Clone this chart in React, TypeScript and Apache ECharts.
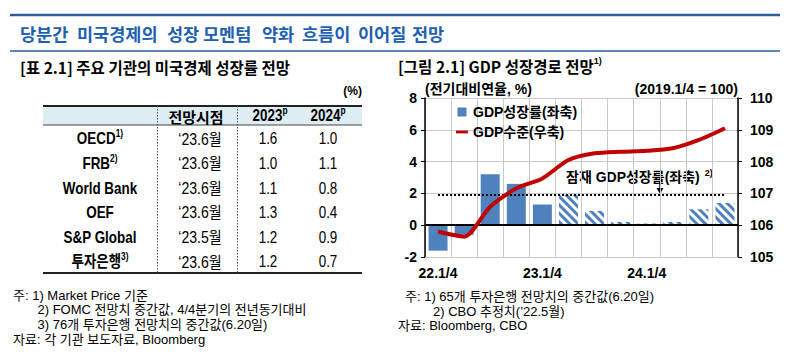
import React, { useEffect, useRef } from 'react';
import * as echarts from 'echarts';

// ---------- data ----------
const quarters = ['22.1/4', '22.2/4', '22.3/4', '22.4/4', '23.1/4', '23.2/4', '23.3/4', '23.4/4', '24.1/4', '24.2/4', '24.3/4', '24.4/4'];
const growthActual = [-1.6, -0.6, 3.2, 2.6, 1.3, null, null, null, null, null, null, null];
const growthForecast = [null, null, null, null, null, 1.9, 0.9, 0.2, 0.1, 0.2, 1.0, 1.4];
const gdpLevel = [105.8, 105.64, 106.58, 107.16, 107.47, 108.05, 108.26, 108.31, 108.34, 108.42, 108.68, 109.05];
const potentialGrowth = [1.9, 1.9, 1.9, 1.9, 1.9, 1.9, 1.9, 1.9, 1.9, 1.9, 1.9, 1.9];
const leftTicks = { min: -2, max: 8, interval: 2 };
const rightTicks = { min: 105, max: 110, interval: 1 };

const institutions = ['OECD', 'FRB', 'World Bank', 'OEF', 'S&P Global', '투자은행'];
const institutionNotes = ['1)', '2)', '', '', '', '3)'];
const forecastDates = ['‘23.6월', '‘23.6월', '‘23.6월', '‘23.6월', '‘23.5월', '‘23.6월'];
const growth2023 = ['1.6', '1.0', '1.1', '1.3', '1.2', '1.2'];
const growth2024 = ['1.0', '1.1', '0.8', '0.4', '0.9', '0.7'];
const tableHeaders = ['전망시점', '2023', '2024'];

const pageTitleWords = ['당분간', '미국경제의', '성장', '모멘텀', '약화', '흐름이', '이어질', '전망'];
const tableTitle = '[표 2.1] 주요 기관의 미국경제 성장률 전망';
const chartTitle = '[그림 2.1] GDP 성장경로 전망';
const leftNotes = ['주: 1) Market Price 기준', '2) FOMC 전망치 중간값, 4/4분기의 전년동기대비', '3) 76개 투자은행 전망치의 중간값(6.20일)', '자료: 각 기관 보도자료, Bloomberg'];
const rightNotes = ['주: 1) 65개 투자은행 전망치의 중간값(6.20일)', '2) CBO 추정치(’22.5월)', '자료: Bloomberg, CBO'];

// ---------- styles ----------
const FONT_KR = "'Noto Sans CJK KR', sans-serif";
const FONT_MIX = "'Liberation Sans', Arial, 'Noto Sans CJK KR', sans-serif";
const BLUE_TITLE = '#2160B0';
const BLUE_LINE = '#2F5C9C';
const BAR_BLUE = '#4F81BD';
const RED = '#C00000';
const GRID_GRAY = '#C8C8C8';
const NARROW = 0.84;

function txt(x: number, y: number, text: string, o: any = {}) {
  return {
    type: 'text',
    x,
    y,
    scaleX: o.scaleX || 1,
    silent: true,
    style: {
      text,
      fill: o.fill || '#000',
      fontSize: o.size || 13,
      fontWeight: o.weight || 'normal',
      fontFamily: o.family || FONT_MIX,
      textAlign: o.align || 'left',
      textVerticalAlign: 'middle',
      rich: o.rich,
    },
  };
}

function hline(x1: number, x2: number, y: number, stroke: string, lineWidth: number, lineDash?: number[]) {
  return { type: 'line', silent: true, shape: { x1, y1: y, x2, y2: y }, style: { stroke, lineWidth, lineDash } };
}
function vline(x: number, y1: number, y2: number, stroke: string, lineWidth: number, lineDash?: number[]) {
  return { type: 'line', silent: true, shape: { x1: x, y1, x2: x, y2 }, style: { stroke, lineWidth, lineDash } };
}

function buildGraphics() {
  const g: any[] = [];
  // page header
  g.push(hline(10, 780, 15, BLUE_LINE, 2.5));
  const wordX = [20, 77, 167, 203, 262, 302, 358, 412];
  pageTitleWords.forEach((w, i) => g.push(txt(wordX[i], 33, w, { fill: BLUE_TITLE, size: 17.5, weight: 'bold', family: FONT_KR })));
  g.push(hline(10, 780, 51, BLUE_LINE, 1.5));

  // table title
  g.push(txt(20, 67, tableTitle, { size: 15.5, weight: 'bold', family: FONT_KR }));
  g.push(txt(362, 91, '(%)', { size: 12, weight: 'bold', align: 'right' }));

  // table
  const tL = 43, tR = 362, tTop = 106, hBot = 125, tBot = 273;
  g.push({ type: 'rect', silent: true, shape: { x: tL, y: tTop, width: tR - tL, height: hBot - tTop }, style: { fill: '#DDEDF2' } });
  g.push(hline(tL, tR, tTop, '#222', 2));
  g.push(hline(tL, tR, hBot, '#444', 1));
  g.push(hline(tL, tR, tBot, '#222', 2));
  g.push(vline(157.5, tTop, tBot, '#555', 1, [1.5, 1.5]));
  g.push(vline(237.5, tTop, tBot, '#555', 1, [1.5, 1.5]));

  const supRich = (size: number, weight: string, family: string) => ({
    a: { fontSize: size, fontWeight: weight, fontFamily: family, fill: '#000', lineHeight: size + 4 },
    s: { fontSize: 10, fontWeight: 'bold', fontFamily: FONT_MIX, fill: '#000', verticalAlign: 'top', lineHeight: 11 },
  });
  const hy = 116;
  g.push(txt(196, hy, tableHeaders[0], { size: 15, weight: 'bold', family: FONT_KR, align: 'center' }));
  g.push(txt(270, hy, '{a|' + tableHeaders[1] + '}{s|p}', { align: 'center', scaleX: NARROW, rich: supRich(16, 'bold', FONT_MIX) }));
  g.push(txt(328, hy, '{a|' + tableHeaders[2] + '}{s|p}', { align: 'center', scaleX: NARROW, rich: supRich(16, 'bold', FONT_MIX) }));

  institutions.forEach((name, i) => {
    const y = 139 + i * 24.55;
    const note = institutionNotes[i];
    const label = note ? '{a|' + name + '}{s|' + note + '}' : '{a|' + name + '}';
    g.push(txt(100, y, label, { align: 'center', scaleX: NARROW, rich: supRich(16, 'bold', FONT_MIX) }));
    g.push(txt(200, y, forecastDates[i], { size: 16, align: 'center', scaleX: 0.88 }));
    g.push(txt(268, y, growth2023[i], { size: 16, align: 'center', scaleX: NARROW }));
    g.push(txt(328, y, growth2024[i], { size: 16, align: 'center', scaleX: NARROW }));
  });

  // left notes
  const lx = [13, 37.5, 37.5, 13];
  leftNotes.forEach((s, i) => g.push(txt(lx[i], 295 + i * 14.8, s, { size: 13 })));

  // chart title
  g.push(txt(398, 66, '{a|' + chartTitle + '}{s|1)}', {
    rich: {
      a: { fontSize: 15.5, fontWeight: 'bold', fontFamily: FONT_KR, fill: '#000', lineHeight: 20 },
      s: { fontSize: 9, fontWeight: 'bold', fontFamily: FONT_MIX, fill: '#000', verticalAlign: 'top', lineHeight: 10 },
    },
  }));

  // annotation: potential growth
  g.push(txt(566, 177, '{a|잠재 GDP성장률(좌축)}{s|2)}', {
    rich: {
      a: { fontSize: 14, fontWeight: 'bold', fontFamily: FONT_MIX, fill: '#000', lineHeight: 18 },
      s: { fontSize: 9, fontWeight: 'bold', fontFamily: FONT_MIX, fill: '#000', verticalAlign: 'top', lineHeight: 10, padding: [0, 0, 0, 5] },
    },
  }));
  g.push(vline(660, 181, 189, '#000', 1.5));
  g.push({ type: 'polygon', silent: true, shape: { points: [[656.5, 188], [663.5, 188], [660, 194]] }, style: { fill: '#000' } });

  // right notes
  const rx = [405, 433, 398];
  const ry = [296, 311, 325];
  rightNotes.forEach((s, i) => g.push(txt(rx[i], ry[i], s, { size: 13 })));
  return g;
}

export default function App() {
  const ref = useRef<HTMLDivElement>(null);
  useEffect(() => {
    if (!ref.current) return;
    const chart = echarts.init(ref.current, null, { renderer: 'svg' });
    const axisLabelStyle = { color: '#000', fontWeight: 'bold', fontSize: 14, fontFamily: FONT_MIX };
    const option: any = {
      animation: false,
      backgroundColor: '#fff',
      grid: { left: 425, right: 65, top: 98, bottom: 106, containLabel: false },
      legend: {
        data: [
          { name: 'GDP성장률(좌축)', icon: 'path://M0 0H10V10H0Z' },
          { name: 'GDP수준(우축)', icon: 'path://M0 0H30V7H0Z' },
        ],
        orient: 'vertical',
        left: 451,
        top: 100,
        itemWidth: 12,
        itemHeight: 9,
        itemGap: 6,
        selectedMode: false,
        textStyle: { color: '#000', fontWeight: 'bold', fontSize: 14, fontFamily: FONT_MIX },
      },
      xAxis: {
        type: 'category',
        data: quarters,
        boundaryGap: true,
        axisLine: { onZero: false, lineStyle: { color: GRID_GRAY, width: 1 } },
        axisTick: { show: false },
        axisLabel: { ...axisLabelStyle, interval: 3, margin: 9 },
        splitLine: { show: true, interval: 0, lineStyle: { color: GRID_GRAY, width: 1 } },
      },
      yAxis: [
        {
          type: 'value',
          position: 'left',
          ...leftTicks,
          name: '(전기대비연율, %)',
          nameLocation: 'end',
          nameGap: 2,
          nameTextStyle: { align: 'left', color: '#000', fontWeight: 'bold', fontSize: 14, fontFamily: FONT_MIX },
          axisLine: { show: true, lineStyle: { color: '#000', width: 1.5 } },
          axisTick: { show: true, inside: false, length: 4, lineStyle: { color: '#000', width: 1 } },
          axisLabel: { ...axisLabelStyle, margin: 8 },
          splitLine: { show: true, lineStyle: { color: GRID_GRAY, width: 1 } },
        },
        {
          type: 'value',
          position: 'right',
          ...rightTicks,
          name: '(2019.1/4 = 100)',
          nameLocation: 'end',
          nameGap: 2,
          nameTextStyle: { align: 'right', color: '#000', fontWeight: 'bold', fontSize: 14, fontFamily: FONT_MIX },
          axisLine: { show: true, lineStyle: { color: '#000', width: 1.5 } },
          axisTick: { show: true, inside: false, length: 4, lineStyle: { color: '#000', width: 1 } },
          axisLabel: { ...axisLabelStyle, margin: 12 },
          splitLine: { show: false },
        },
      ],
      series: [
        {
          name: 'GDP성장률(좌축)',
          type: 'bar',
          data: growthActual,
          barWidth: 19,
          barGap: '-100%',
          itemStyle: { color: BAR_BLUE },
          markLine: {
            silent: true,
            symbol: ['none', 'none'],
            label: { show: false },
            lineStyle: { color: '#000', width: 2, type: 'solid' },
            data: [{ yAxis: 0 }],
          },
        },
        {
          name: '전망',
          type: 'bar',
          data: growthForecast,
          barWidth: 19,
          barGap: '-100%',
          itemStyle: {
            color: '#fff',
            decal: {
              symbol: 'rect',
              symbolSize: 1,
              dashArrayX: [1, 0],
              dashArrayY: [2.5, 2.5],
              rotation: Math.PI / 4,
              color: BAR_BLUE,
              backgroundColor: '#fff',
            },
          },
        },
        {
          name: '잠재 GDP성장률',
          type: 'line',
          data: potentialGrowth,
          symbol: 'none',
          z: 4,
          lineStyle: { color: '#000', width: 2, type: [2, 2] },
        },
        {
          name: 'GDP수준(우축)',
          type: 'line',
          yAxisIndex: 1,
          data: gdpLevel,
          symbol: 'none',
          smooth: 0.25,
          z: 5,
          color: RED,
          lineStyle: { color: RED, width: 4 },
        },
      ],
      graphic: { elements: buildGraphics() },
    };
    chart.setOption(option);
    return () => chart.dispose();
  }, []);
  return <div ref={ref} style={{ position: 'absolute', left: 0, top: 0, width: 803, height: 363, background: '#fff' }} />;
}
